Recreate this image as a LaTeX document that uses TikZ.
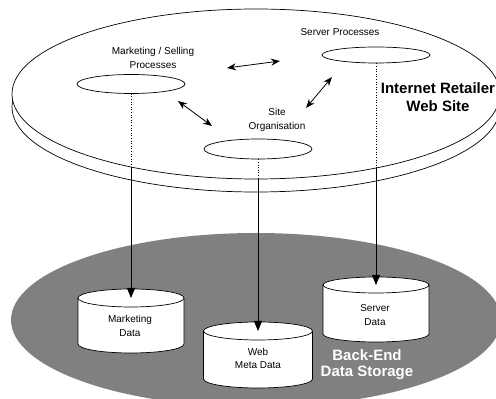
\documentclass[tikz,border=0pt]{standalone}
\usepackage{fontspec}
\setmainfont{Liberation Sans}
\usetikzlibrary{shapes.geometric,arrows.meta}
\definecolor{store}{RGB}{128,128,128}
\begin{document}
\begin{tikzpicture}[x=1pt,y=1pt,
 line width=0.7pt,
 proc/.style={draw, ellipse, fill=white, minimum width=108pt, inner sep=0pt},
 lbl/.style={font=\fontsize{10}{13.5}\selectfont, align=center, inner sep=0pt},
 big/.style={font=\fontsize{15}{18}\selectfont\bfseries, align=center, inner sep=0pt},
 dbl/.style={{Stealth[length=9pt,width=7pt]}-{Stealth[length=9pt,width=7pt]}, line width=0.8pt},
 feed/.style={-{Triangle[length=10pt,width=8pt]}, line width=0.8pt},
 hid/.style={dotted, line width=0.6pt}]
\useasboundingbox (0,0) rectangle (496,399);
\clip (0,0) rectangle (496,399);
% back-end storage
\fill[store] (256,79) ellipse[x radius=245, y radius=87];
\foreach \n/\c/\t/\b/\r/\e in {mkt/131/101/55/53/9, web/258/68/20/54.5/9, srv/376/114/65/53/8}{
  \filldraw[fill=white] ({\c-\r},\t) -- ({\c-\r},\b) arc[start angle=180,end angle=360,x radius=\r,y radius=\e] -- ({\c+\r},\t);
  \filldraw[fill=white] (\c,\t) ellipse[x radius=\r, y radius=\e];
  \coordinate (\n-top) at (\c,\t);
}
\node[lbl] (mktd) at (130,73) {Marketing\\Data};
\node[lbl] (webd) at (258,40.5) {Web\\Meta Data};
\node[lbl] (srvd) at (375,84) {Server\\Data};
\node[big, text=white, font=\fontsize{15}{16}\selectfont\bfseries] (be) at (367,34) {Back-End\\Data Storage};
% web site disk
\filldraw[fill=white] (256,292) ellipse[x radius=244, y radius=85];
\filldraw[fill=white] (256,305) ellipse[x radius=244, y radius=85];
\node[proc, minimum height=19pt] (mkt) at (131,315) {};
\node[proc, minimum height=16pt] (srv) at (376,344) {};
\node[proc, minimum height=20pt] (site) at (258,250) {};
\node[lbl] (mktl) at (153,341) {Marketing / Selling\\Processes};
\node[lbl] (srvl) at (340,367) {Server Processes};
\node[lbl] (sitel) at (277,279) {Site\\Organisation};
\node[big] (ws) at (438,302) {Internet Retailer\\Web Site};
% interaction arrows
\coordinate (a1) at (227,331); \coordinate (a2) at (280,338);
\coordinate (b1) at (178,298); \coordinate (b2) at (212,273);
\coordinate (c1) at (306,291); \coordinate (c2) at (332,322);
\draw[dbl] (a1) -- (a2);
\draw[dbl] (b1) -- (b2);
\draw[dbl] (c1) -- (c2);
% data flows
\coordinate (mktb) at (131,232);
\coordinate (siteb) at (258,220);
\coordinate (srvb) at (376,231);
\draw[hid] (mkt.south) -- (mktb);
\draw[feed] (mktb) -- (mkt-top);
\draw[hid] (site.south) -- (siteb);
\draw[feed] (siteb) -- (web-top);
\draw[hid] (srv.south) -- (srvb);
\draw[feed] (srvb) -- (srv-top);
\end{tikzpicture}
\end{document}
